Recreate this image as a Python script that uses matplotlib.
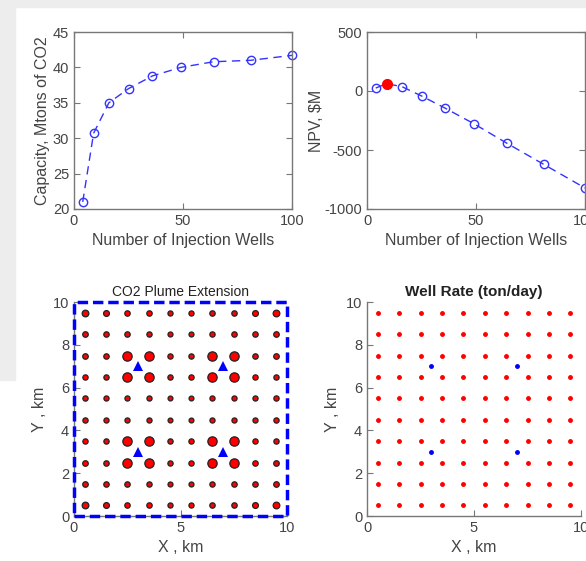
import numpy as np
import matplotlib
matplotlib.use("Agg")
import matplotlib.pyplot as plt
from matplotlib.patches import Rectangle

plt.rcParams["font.family"] = ["Liberation Sans", "DejaVu Sans"]
plt.rcParams["axes.unicode_minus"] = False

# --------------------------------------------------
# data
# --------------------------------------------------
n_wells = [4, 9, 16, 25, 36, 49, 64, 81, 100]
capacity = [21.0, 30.7, 35.0, 37.0, 38.8, 40.0, 40.8, 41.0, 41.7]
npv = [25, 62, 37, -42, -147, -277, -441, -621, -822]
best_wells = 9
best_npv = 62

grid_x = [0.5, 1.5, 2.5, 3.5, 4.5, 5.5, 6.5, 7.5, 8.5, 9.5]
grid_y = [0.5, 1.5, 2.5, 3.5, 4.5, 5.5, 6.5, 7.5, 8.5, 9.5]
inj_x = [3, 7, 3, 7]
inj_y = [3, 3, 7, 7]

# relative plume size per producer (rows from y=0.5 upward)
plume_size = [
    [4.8, 4.2, 3.9, 3.9, 3.7, 3.7, 3.9, 3.9, 4.2, 4.8],
    [4.0, 3.9, 3.9, 3.8, 3.6, 3.6, 3.8, 3.9, 3.9, 4.0],
    [4.0, 3.9, 6.7, 6.7, 3.8, 3.8, 6.7, 6.7, 3.9, 4.0],
    [3.8, 3.8, 6.7, 6.7, 3.8, 3.8, 6.7, 6.7, 3.8, 3.8],
    [3.8, 3.7, 3.7, 3.7, 3.5, 3.5, 3.7, 3.7, 3.7, 3.8],
    [3.8, 3.7, 3.7, 3.7, 3.5, 3.5, 3.7, 3.7, 3.7, 3.8],
    [3.8, 3.8, 6.7, 6.7, 3.8, 3.8, 6.7, 6.7, 3.8, 3.8],
    [4.0, 3.9, 6.7, 6.7, 3.8, 3.8, 6.7, 6.7, 3.9, 4.0],
    [4.0, 3.9, 3.9, 3.8, 3.6, 3.6, 3.8, 3.9, 3.9, 4.0],
    [4.8, 4.2, 3.9, 3.9, 3.7, 3.7, 3.9, 3.9, 4.2, 4.8],
]

txt = "#444444"
spine = "#777777"

fig = plt.figure(figsize=(5.86, 5.61), dpi=100)
fig.patches.append(Rectangle((0, 1 - 7 / 561), 1, 7 / 561, transform=fig.transFigure,
                             color="#ededed", zorder=-10))
fig.patches.append(Rectangle((0, 1 - 380 / 561), 15 / 586, 380 / 561, transform=fig.transFigure,
                             color="#ededed", zorder=-10))


def style(ax, box=True):
    for s in ax.spines.values():
        s.set_color(spine)
        s.set_linewidth(1.0)
    if not box:
        ax.spines["top"].set_visible(False)
        ax.spines["right"].set_visible(False)
    ax.tick_params(direction="in", length=4, width=0.8, colors=spine,
                   labelcolor=txt, labelsize=10.5, top=box, right=box)


# --------------------------------------------------
# capacity
# --------------------------------------------------
ax1 = fig.add_axes([74 / 586, 1 - 209 / 561, 218 / 586, 177 / 561])
ax1.plot(n_wells, capacity, "--o", color="#3333ff", mfc="none", ms=6, lw=1.0,
         dashes=(6, 4), clip_on=False)
ax1.set_xlim(0, 100)
ax1.set_ylim(20, 45)
ax1.set_xticks([0, 50, 100])
ax1.set_yticks([20, 25, 30, 35, 40, 45])
ax1.set_xlabel("Number of Injection Wells", fontsize=11.5, color=txt)
ax1.set_ylabel("Capacity, Mtons of CO2", fontsize=11.5, color=txt, labelpad=2)
style(ax1)

# --------------------------------------------------
# NPV
# --------------------------------------------------
ax2 = fig.add_axes([367 / 586, 1 - 209 / 561, 218 / 586, 177 / 561])
ax2.plot(n_wells, npv, "--o", color="#3333ff", mfc="none", ms=6, lw=1.0,
         dashes=(6, 4), clip_on=False)
ax2.plot([best_wells], [best_npv], "o", color="red", ms=7, zorder=5)
ax2.set_xlim(0, 100)
ax2.set_ylim(-1000, 500)
ax2.set_xticks([0, 50, 100])
ax2.set_yticks([-1000, -500, 0, 500])
ax2.set_xlabel("Number of Injection Wells", fontsize=11.5, color=txt)
ax2.set_ylabel("NPV, $M", fontsize=11.5, color=txt, labelpad=0)
style(ax2)

# --------------------------------------------------
# plume extension
# --------------------------------------------------
ax3 = fig.add_axes([74 / 586, 1 - 516 / 561, 213 / 586, 214 / 561])
for j, yy in enumerate(grid_y):
    for i, xx in enumerate(grid_x):
        ax3.plot(xx, yy, "o", color="red", mec="#222222", mew=0.9,
                 ms=plume_size[j][i])
ax3.plot(inj_x, inj_y, "^", color="blue", ms=7, mew=0)
ax3.plot([0, 10, 10, 0, 0], [0, 0, 10, 10, 0], "--", color="blue", lw=2.5,
         dashes=(3, 1.4), clip_on=False, zorder=6)
ax3.set_xlim(0, 10)
ax3.set_ylim(0, 10)
ax3.set_xticks([0, 5, 10])
ax3.set_yticks([0, 2, 4, 6, 8, 10])
ax3.set_xlabel("X , km", fontsize=11.5, color=txt)
ax3.set_ylabel("Y , km", fontsize=11.5, color=txt)
ax3.set_title("CO2 Plume Extension", fontsize=10, color="#222222", pad=4)
style(ax3, box=False)

# --------------------------------------------------
# well rate
# --------------------------------------------------
ax4 = fig.add_axes([367 / 586, 1 - 516 / 561, 214 / 586, 214 / 561])
gx, gy = np.meshgrid(grid_x, grid_y)
ax4.plot(gx.ravel(), gy.ravel(), ".", color="red", ms=5)
ax4.plot(inj_x, inj_y, ".", color="blue", ms=5)
ax4.set_xlim(0, 10)
ax4.set_ylim(0, 10)
ax4.set_xticks([0, 5, 10])
ax4.set_yticks([0, 2, 4, 6, 8, 10])
ax4.set_xlabel("X , km", fontsize=11.5, color=txt)
ax4.set_ylabel("Y , km", fontsize=11.5, color=txt)
ax4.set_title("Well Rate (ton/day)", fontsize=11, fontweight="bold", color="#222222", pad=4)
style(ax4, box=False)

fig.savefig("out.png", dpi=100)
